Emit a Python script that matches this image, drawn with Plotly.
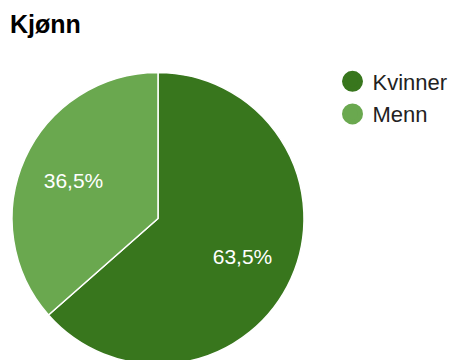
import plotly.graph_objects as go

# Survey answers for "Kjønn" (gender), share of respondents in percent
labels = ["Kvinner", "Menn"]
values = [63.5, 36.5]
colors = ["#38761d", "#6aa84f"]
title_text = "Kjønn"

W, H = 453, 370
FONT = "Arial, 'Liberation Sans', sans-serif"

# Pie placement in pixels (centre and radius), converted to paper domain
cx, cy, r = 158, 218.5, 146
dom_x = [(cx - r) / W, (cx + r) / W]
dom_y = [(H - (cy + r)) / H, (H - (cy - r)) / H]

fig = go.Figure()

# Filled slices with white separators
fig.add_trace(go.Pie(
    labels=labels,
    values=values,
    sort=False,
    direction="clockwise",
    rotation=0,
    marker=dict(colors=colors, line=dict(color="white", width=1.5)),
    textinfo="none",
    showlegend=False,
    hoverinfo="label+percent",
    domain=dict(x=dom_x, y=dom_y),
))

# Percentage labels: transparent ring on top, so the labels sit further out
fig.add_trace(go.Pie(
    labels=labels,
    values=values,
    sort=False,
    direction="clockwise",
    rotation=0,
    hole=0.27,
    marker=dict(colors=["rgba(0,0,0,0)"] * len(labels), line=dict(width=0)),
    texttemplate="%{percent:.1%}",
    textposition="inside",
    insidetextorientation="horizontal",
    textfont=dict(color="white", size=21, family=FONT),
    showlegend=False,
    hoverinfo="skip",
    domain=dict(x=dom_x, y=dom_y),
))

# Legend entries with round swatches
for lab, col in zip(labels, colors):
    fig.add_trace(go.Scatter(
        x=[None], y=[None], mode="markers", name=lab, legendgroup=lab,
        marker=dict(color=col, size=16, line=dict(color=col, width=5)),
    ))

fig.update_layout(
    width=W, height=H,
    margin=dict(l=0, r=0, t=0, b=0),
    paper_bgcolor="white", plot_bgcolor="white",
    separators=", ",
    title=dict(text="<b>" + title_text + "</b>", x=10 / W, xanchor="left",
               yref="container", y=1 - 24.5 / H, yanchor="middle",
               font=dict(family=FONT, size=25, color="#000000")),
    xaxis=dict(visible=False), yaxis=dict(visible=False),
    showlegend=True,
    legend=dict(x=332.5 / W, xanchor="left", y=1 - 60.5 / H, yanchor="top",
                font=dict(family=FONT, size=22, color="#222222"),
                tracegroupgap=1, bgcolor="rgba(0,0,0,0)"),
)

fig.write_html(
    "out.html",
    post_script="document.body.style.margin='0';document.body.style.overflow='hidden';"
                "document.documentElement.style.overflow='hidden';",
)
